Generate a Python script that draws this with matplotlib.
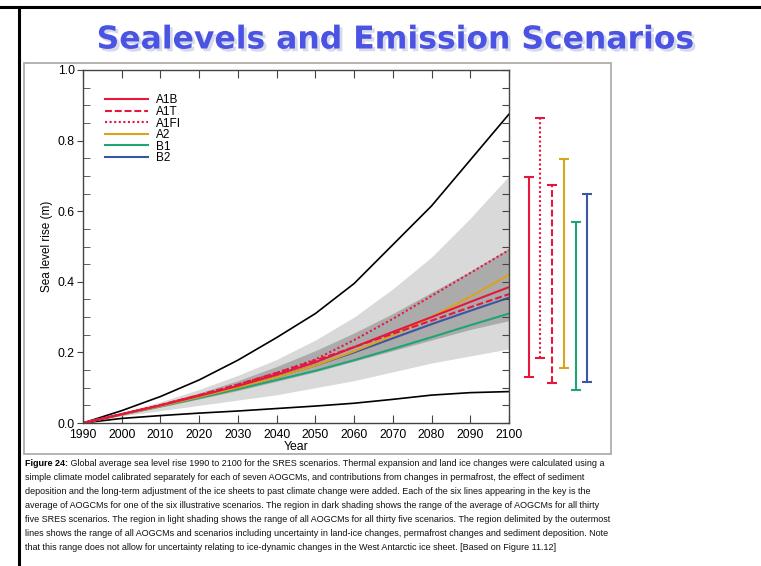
import matplotlib
matplotlib.use("Agg")
import matplotlib.pyplot as plt
import matplotlib.patheffects as pe
from matplotlib.lines import Line2D
from matplotlib.patches import Rectangle
import numpy as np

plt.rcParams['font.family'] = ['Liberation Sans', 'DejaVu Sans']

W, H = 761, 566

years = [1990, 2000, 2010, 2020, 2030, 2040, 2050, 2060, 2070, 2080, 2090, 2100]

# scenario means (m)
a1b  = [0, 0.025, 0.050, 0.077, 0.105, 0.137, 0.172, 0.215, 0.258, 0.300, 0.343, 0.385]
a1t  = [0, 0.025, 0.051, 0.079, 0.109, 0.142, 0.177, 0.215, 0.253, 0.290, 0.328, 0.365]
a1fi = [0, 0.025, 0.051, 0.079, 0.109, 0.142, 0.180, 0.235, 0.295, 0.360, 0.425, 0.490]
a2   = [0, 0.024, 0.048, 0.074, 0.101, 0.130, 0.163, 0.203, 0.248, 0.300, 0.358, 0.420]
b1   = [0, 0.024, 0.047, 0.071, 0.096, 0.122, 0.148, 0.178, 0.210, 0.243, 0.277, 0.310]
b2   = [0, 0.025, 0.049, 0.075, 0.102, 0.131, 0.163, 0.200, 0.240, 0.280, 0.318, 0.355]

# envelopes
outer_hi = [0, 0.035, 0.075, 0.122, 0.178, 0.242, 0.310, 0.395, 0.505, 0.615, 0.745, 0.875]
outer_lo = [0, 0.013, 0.021, 0.028, 0.034, 0.041, 0.048, 0.056, 0.067, 0.079, 0.086, 0.089]
light_hi = [0, 0.030, 0.060, 0.095, 0.135, 0.180, 0.235, 0.300, 0.380, 0.470, 0.580, 0.700]
light_lo = [0, 0.020, 0.035, 0.050, 0.065, 0.080, 0.100, 0.120, 0.145, 0.170, 0.190, 0.210]
dark_hi  = [0, 0.027, 0.055, 0.085, 0.120, 0.160, 0.205, 0.255, 0.310, 0.370, 0.430, 0.495]
dark_lo  = [0, 0.022, 0.045, 0.068, 0.092, 0.118, 0.145, 0.175, 0.205, 0.235, 0.265, 0.290]

# 2100 ranges drawn right of the plot
bar_names = ["A1B", "A1FI", "A1T", "A2", "B1", "B2"]
bar_lo = [0.130, 0.184, 0.113, 0.156, 0.093, 0.116]
bar_hi = [0.697, 0.864, 0.674, 0.748, 0.569, 0.649]

red, gold, green, blue = "#e5173f", "#d9a31c", "#1ea672", "#3b56a3"
dash = (0, (3.3, 1.4))
dot = (0, (1.0, 1.2))
style = {
    "A1B": (red, "-"), "A1T": (red, dash), "A1FI": (red, dot),
    "A2": (gold, "-"), "B1": (green, "-"), "B2": (blue, "-"),
}
series = {"A1B": a1b, "A1T": a1t, "A1FI": a1fi, "A2": a2, "B1": b1, "B2": b2}

fig = plt.figure(figsize=(W / 100, H / 100), dpi=100)

# slide decorations
fig.add_artist(Line2D([0, 1], [1 - 6.5 / H] * 2, transform=fig.transFigure, color="black", lw=2.2))
fig.add_artist(Line2D([19 / W] * 2, [0, 1 - 6.5 / H], transform=fig.transFigure, color="black", lw=2.2))
fig.add_artist(Rectangle((24 / W, 1 - 454 / H), (611 - 24) / W, (454 - 63) / H,
                         transform=fig.transFigure, fill=False, ec="#aaa59f", lw=1.2))

renderer = fig.canvas.get_renderer()

title = fig.text(395 / W, 1 - 40 / H, "Sealevels and Emission Scenarios", ha="center", va="center",
                 fontsize=26, fontweight="bold", color="#4a53e2", family="DejaVu Sans",
                 path_effects=[pe.withSimplePatchShadow(offset=(2, -2), shadow_rgbFace="#a8aed0", alpha=0.45)])
tw = title.get_window_extent(renderer).width
title.set_fontsize(26 * 598 / tw)

ax = fig.add_axes([83 / W, 1 - 423 / H, 426 / W, 353 / H])
ax.fill_between(years, light_lo, light_hi, color="#d9d9d9", lw=0)
ax.fill_between(years, dark_lo, dark_hi, color="#ababab", lw=0)
ax.plot(years, outer_hi, color="black", lw=1.2)
ax.plot(years, outer_lo, color="black", lw=1.2)
for name in ["B1", "B2", "A2", "A1T", "A1B", "A1FI"]:
    c, ls = style[name]
    ax.plot(years, series[name], color=c, ls=ls, lw=1.5, label=name)

handles, labels = ax.get_legend_handles_labels()
order = ["A1B", "A1T", "A1FI", "A2", "B1", "B2"]
hmap = dict(zip(labels, handles))
ax.legend([hmap[n] for n in order], order, loc="upper left", bbox_to_anchor=(0.041, 0.944),
          frameon=False, fontsize=8.5, handlelength=3.6, handletextpad=0.7, labelspacing=-0.04,
          borderaxespad=0)

ax.set_xlim(1990, 2100)
ax.set_ylim(0, 1)
ax.set_xticks(range(1990, 2101, 10))
ax.set_yticks(np.arange(0, 1.01, 0.2))
ax.set_yticks(np.arange(0, 1.01, 0.05), minor=True)
ax.yaxis.set_major_formatter(matplotlib.ticker.FormatStrFormatter("%.1f"))
ax.tick_params(axis="x", direction="in", length=6, top=True, labelsize=8.8, pad=4, color="#444444")
ax.tick_params(axis="y", which="major", direction="out", length=4, labelsize=8.8, pad=2, color="#444444")
ax.tick_params(axis="y", which="minor", direction="in", length=5, color="#444444")
ax.set_xlabel("Year", fontsize=8.8, labelpad=0)
ax.set_ylabel("Sea level rise (m)", fontsize=8.5, labelpad=3)
for s in ax.spines.values():
    s.set_color("#444444")
    s.set_linewidth(1.0)

axr = ax.twinx()
axr.set_ylim(0, 1)
axr.set_yticks(np.arange(0, 1.01, 0.05))
axr.tick_params(axis="y", direction="in", length=5, labelright=False, color="#444444")
axr.spines[:].set_visible(False)

ax2 = fig.add_axes([520 / W, 1 - 423 / H, 76 / W, 353 / H])
ax2.set_xlim(-0.75, 5.75)
ax2.set_ylim(0, 1)
ax2.axis("off")
for i, name in enumerate(bar_names):
    c, ls = style[name]
    ax2.vlines(i, bar_lo[i], bar_hi[i], color=c, ls=ls, lw=1.5)
    ax2.plot([i, i], [bar_lo[i], bar_hi[i]], ls="none", marker="_", ms=7, mew=1.5, color=c)

# caption
cap_bold = "Figure 24:"
cap_lines = [
    " Global average sea level rise 1990 to 2100 for the SRES scenarios. Thermal expansion and land ice changes were calculated using a",
    "simple climate model calibrated separately for each of seven AOGCMs, and contributions from changes in permafrost, the effect of sediment",
    "deposition and the long-term adjustment of the ice sheets to past climate change were added. Each of the six lines appearing in the key is the",
    "average of AOGCMs for one of the six illustrative scenarios. The region in dark shading shows the range of the average of AOGCMs for all thirty",
    "five SRES scenarios. The region in light shading shows the range of all AOGCMs for all thirty five scenarios. The region delimited by the outermost",
    "lines shows the range of all AOGCMs and scenarios including uncertainty in land-ice changes, permafrost changes and sediment deposition. Note",
    "that this range does not allow for uncertainty relating to ice-dynamic changes in the West Antarctic ice sheet. [Based on Figure 11.12]",
]
cap_x0 = 25
probe = fig.text(0, 0, cap_lines[4], fontsize=7)
pw = probe.get_window_extent(renderer).width
probe.remove()
cap_fs = 7 * 584 / pw
y0, dy = 464, 14
for k, line in enumerate(cap_lines):
    y = 1 - (y0 + k * dy) / H
    x = cap_x0 / W
    if k == 0:
        b = fig.text(x, y, cap_bold, fontsize=cap_fs, fontweight="bold", va="center")
        x += b.get_window_extent(renderer).width / W
    fig.text(x, y, line, fontsize=cap_fs, va="center", color="#111111")

fig.savefig("out.png", dpi=100)
